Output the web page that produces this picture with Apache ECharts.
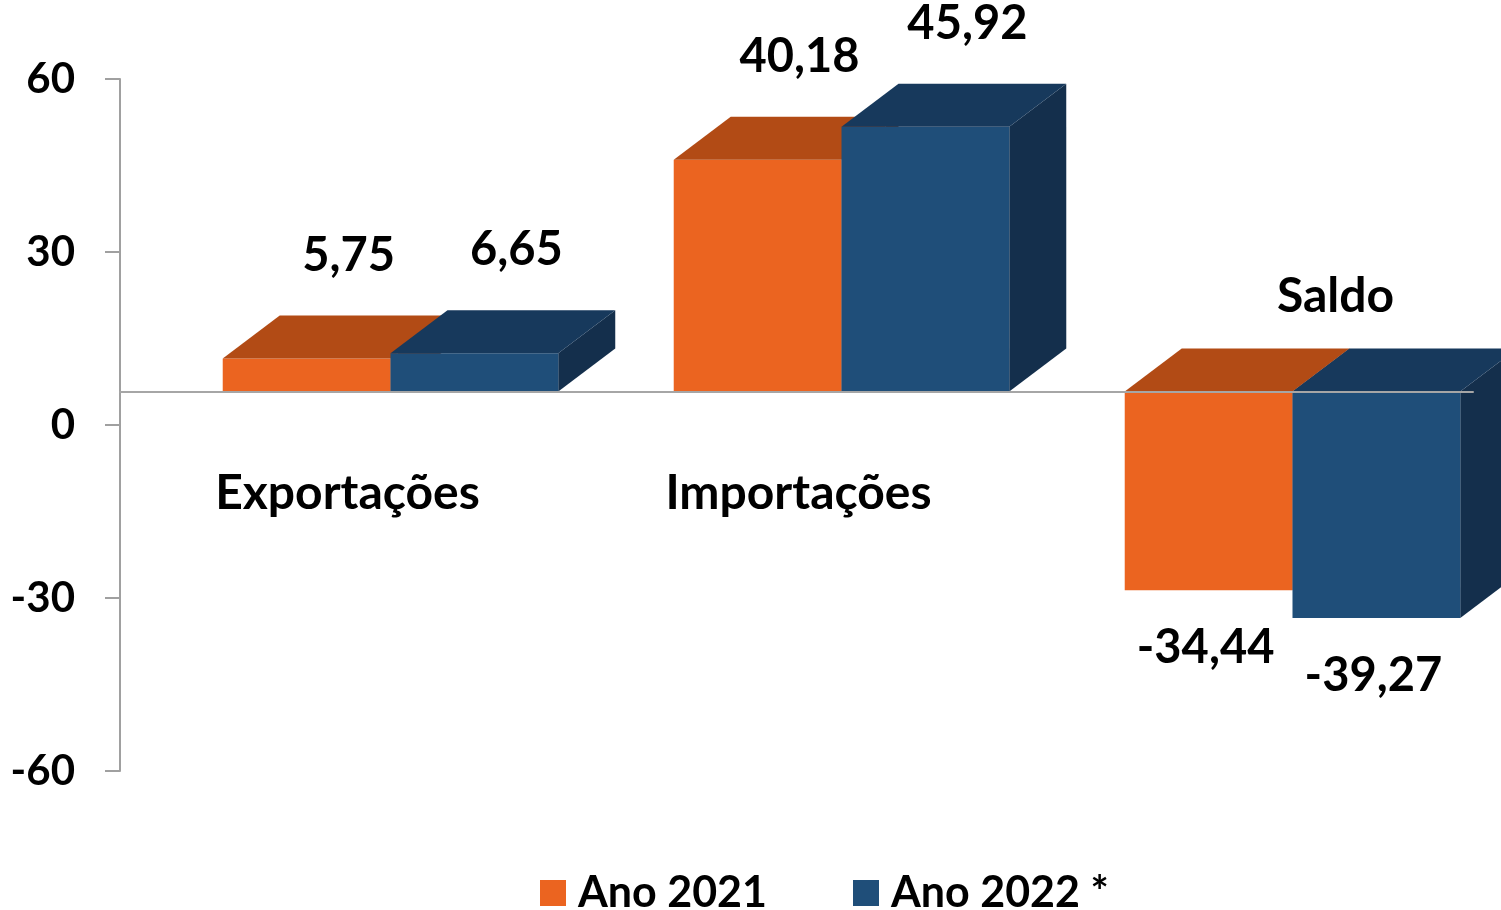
<!DOCTYPE html>
<html>
<head>
<meta charset="utf-8">
<title>Balança comercial</title>
<script src="https://cdn.jsdelivr.net/npm/echarts@6/dist/echarts.min.js"></script>
<style>
  html, body { margin: 0; padding: 0; background: #fff; }
  #chart { width: 1501px; height: 910px; }
</style>
</head>
<body>
<div id="chart"></div>
<script>
// dados do gráfico
const categorias = ['Exportações', 'Importações', 'Saldo'];
const ano2021 = [5.75, 40.18, -34.44];
const ano2022 = [6.65, 45.92, -39.27];
const nomesSeries = ['Ano 2021', 'Ano 2022 *'];
const yTicks = [-60, -30, 0, 30, 60];

// cores (frente, topo, lado)
const cores = [
    { frente: '#EB6420', topo: '#B24B15', lado: '#9A4012' },
    { frente: '#1F4E79', topo: '#17395C', lado: '#142F4C' }
];

const FONTE = 'Lato, "Open Sans", sans-serif';
const PISO = 5.8;      // o "chão" 3D fica acima do zero do eixo
const DX = 57, DY = 43; // profundidade 3D
const DESLOC = 45;     // frente das barras deslocada para a direita
const LARG = 0.372;    // largura da barra em relação à banda

function fmt(v) {
    return v.toFixed(2).replace('.', ',');
}

function renderBarra(params, api) {
    const ci = api.value(0);
    const v = api.value(1);
    const base = api.coord([ci, 0]);
    const fim = api.coord([ci, v]);
    const banda = api.size([1, 0])[0];
    const w = banda * LARG;
    const s = params.seriesIndex;
    const c = cores[s];
    const x0 = base[0] + DESLOC + (s === 0 ? -w : 0);
    const x1 = x0 + w;
    const yTop = Math.min(base[1], fim[1]);
    const yBot = Math.max(base[1], fim[1]);

    const filhos = [
        {
            type: 'polygon',
            shape: { points: [[x1, yTop], [x1 + DX, yTop - DY], [x1 + DX, yBot - DY], [x1, yBot]] },
            style: { fill: c.lado }
        },
        {
            type: 'rect',
            shape: { x: x0, y: yTop, width: w, height: yBot - yTop },
            style: { fill: c.frente }
        },
        {
            type: 'polygon',
            shape: { points: [[x0, yTop], [x1, yTop], [x1 + DX, yTop - DY], [x0 + DX, yTop - DY]] },
            style: { fill: c.topo }
        },
        {
            type: 'text',
            z2: 20,
            style: {
                text: fmt(v),
                x: v >= 0 ? (x0 + x1) / 2 + 42 : (x0 + x1) / 2 - 3,
                y: v >= 0 ? yTop - 103 : yBot + 58,
                align: 'center',
                verticalAlign: 'middle',
                font: 'bold 47px ' + FONTE,
                fill: '#000'
            }
        }
    ];

    // nome da categoria (desenhado uma vez, com a primeira série)
    if (s === 0) {
        filhos.push({
            type: 'text',
            z2: 20,
            style: {
                text: categorias[ci],
                x: base[0] + (v >= 0 ? 2 : 88),
                y: base[1] + (v >= 0 ? 102 : -95),
                align: 'center',
                verticalAlign: 'middle',
                font: 'bold 48px ' + FONTE,
                fill: '#000'
            }
        });
    }
    return { type: 'group', children: filhos };
}

const chart = echarts.init(document.getElementById('chart'));

const option = {
    backgroundColor: '#fff',
    animation: false,
    grid: { left: 120, right: 28, top: 79, bottom: 139 },
    legend: {
        data: nomesSeries,
        left: 540,
        top: 868,
        padding: 0,
        icon: 'rect',
        itemWidth: 26,
        itemHeight: 26,
        itemGap: 86,
        textStyle: {
            fontFamily: FONTE,
            fontWeight: 'bold',
            fontSize: 43,
            lineHeight: 50,
            color: '#000',
            padding: [0, 0, 0, 7]
        }
    },
    xAxis: {
        type: 'category',
        data: categorias,
        z: 10,
        axisLine: {
            show: true,
            onZero: true,
            onZeroAxisIndex: 1,
            lineStyle: { color: '#A6A6A6', width: 2 }
        },
        axisTick: { show: false },
        axisLabel: { show: false },
        splitLine: { show: false }
    },
    yAxis: [
        {
            type: 'value',
            min: yTicks[0],
            max: yTicks[yTicks.length - 1],
            interval: 30,
            axisLine: { show: true, lineStyle: { color: '#A0A0A0', width: 2 } },
            axisTick: { show: true, length: 15, lineStyle: { color: '#A0A0A0', width: 2 } },
            splitLine: { show: false },
            axisLabel: {
                margin: 45,
                fontFamily: FONTE,
                fontWeight: 'bold',
                fontSize: 42,
                color: '#000'
            }
        },
        {
            // eixo oculto com o zero no "chão" das barras
            type: 'value',
            show: false,
            min: yTicks[0] - PISO,
            max: yTicks[yTicks.length - 1] - PISO,
            splitLine: { show: false }
        }
    ],
    series: [
        {
            name: nomesSeries[0],
            type: 'custom',
            yAxisIndex: 1,
            itemStyle: { color: cores[0].frente },
            renderItem: renderBarra,
            encode: { x: 0, y: 1 },
            data: ano2021.map((v, i) => [i, v])
        },
        {
            name: nomesSeries[1],
            type: 'custom',
            yAxisIndex: 1,
            itemStyle: { color: cores[1].frente },
            renderItem: renderBarra,
            encode: { x: 0, y: 1 },
            data: ano2022.map((v, i) => [i, v])
        }
    ]
};

chart.setOption(option);
</script>
</body>
</html>
